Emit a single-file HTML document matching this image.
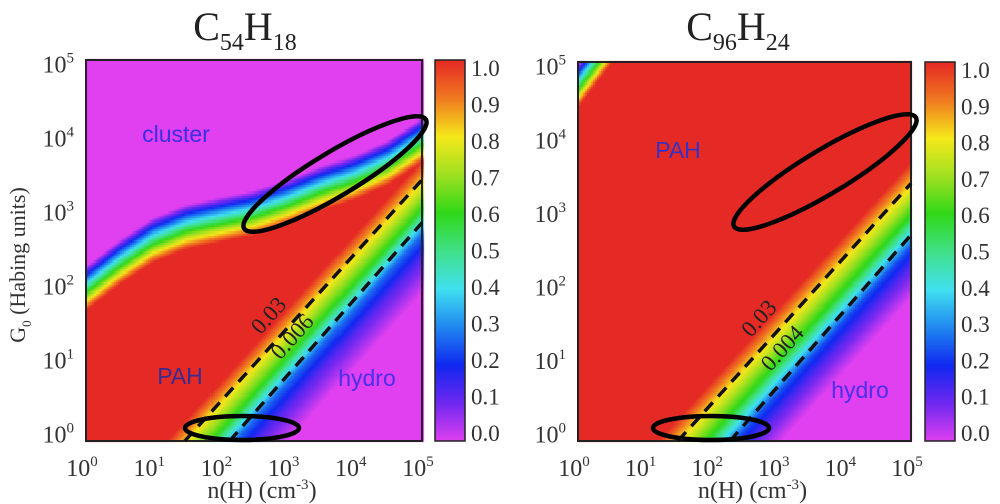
<!DOCTYPE html>
<html><head><meta charset="utf-8">
<style>
html,body{margin:0;padding:0;background:#fff;}
#wrap{position:relative;width:1000px;height:504px;overflow:hidden;}
canvas{position:absolute;left:0;top:0;}
svg{position:absolute;left:0;top:0;}
text{font-family:"Liberation Serif",serif;}
</style></head>
<body>
<div id="wrap">
<canvas id="cv" width="1000" height="504"></canvas>
<svg id="sv" width="1000" height="504"></svg>
</div>
<script>
// ---- data ----
const xTickExp = [0,1,2,3,4,5];
const yTickExp = [0,1,2,3,4,5];
const cbTicks = ["0.0","0.1","0.2","0.3","0.4","0.5","0.6","0.7","0.8","0.9","1.0"];
// cluster transition edge (log G0) sampled at log n = 0..5 step 0.5
const clusterLogN = [0,0.5,1,1.5,2,2.5,3,3.5,4,4.5,5];
const clusterEdgeL = [1.95,2.3,2.6,2.78,2.88,2.97,3.12,3.3,3.45,3.65,3.95];
const clusterEdgeR = [4.7,5.3,6.2,7,7,7,7,7,7,7,7];
// hydro transition: value vs offset d = logG - logn
const hydroDL = [-3.1,-2.65,-2.3,-1.95,-1.57,-1.3];
const hydroVL = [0,0.12,0.27,0.6,0.82,1];
const hydroDR = [-3.15,-2.75,-2.45,-2.05,-1.6,-1.3];
const hydroVR = [0,0.12,0.24,0.58,0.82,1];
// dashed contour offsets (logG = slope*logn + offset)
const contourLabelsL = ["0.03","0.006"];
const contourOffsetL = [-1.57,-2.3];
const contourLabelsR = ["0.03","0.004"];
const contourOffsetR = [-1.6,-2.45];
const contourSlope = [1.0,1.03];
// colormap
const cmapV = [0,0.1,0.2,0.3,0.4,0.5,0.6,0.7,0.8,0.9,1.0];
const cmapC = ["#e040f0","#7028f0","#1028f0","#2088f0","#40e0f0","#40e088","#30d818","#a0e020","#f5e81a","#f07a20","#e52a25"];

const panels = [
 {name:"c54h18",x0:86,x1:422,y0:60,y1:441,cb0:435,cb1:465,title:["C","54","H","18"],tx:245,edge:clusterEdgeL,hd:hydroDL,hv:hydroVL,cl:contourLabelsL,co:contourOffsetL,
  labels:[["cluster",176,142,"#3a30e0"],["PAH",180,384,"#3a2a90"],["hydro",367,386,"#4a30e8"]],
  ell:[[335,174,106,22,-31],[242,428,57,12,0]], yTitle:true},
 {name:"c96h24",x0:578,x1:911,y0:62,y1:441,cb0:925,cb1:955,title:["C","96","H","24"],tx:738,edge:clusterEdgeR,hd:hydroDR,hv:hydroVR,cl:contourLabelsR,co:contourOffsetR,
  labels:[["PAH",678,158,"#3a30c0"],["hydro",860,398,"#4a30e8"]],
  ell:[[825,172,106,22,-31],[711,428,58,12,0]], yTitle:false}
];
const yMin=-0.1,yMax=5.05;
function hex(c){return [parseInt(c.slice(1,3),16),parseInt(c.slice(3,5),16),parseInt(c.slice(5,7),16)];}
function cmap(v){v=Math.max(0,Math.min(1,v));for(let i=0;i<cmapV.length-1;i++){if(v<=cmapV[i+1]){const t=(v-cmapV[i])/(cmapV[i+1]-cmapV[i]);const a=hex(cmapC[i]),b=hex(cmapC[i+1]);return [0,1,2].map(k=>Math.round(a[k]+(b[k]-a[k])*t));}}return hex(cmapC[cmapC.length-1]);}
function interp(xs,ys,x){if(x<=xs[0])return ys[0];for(let i=0;i<xs.length-1;i++){if(x<=xs[i+1]){const t=(x-xs[i])/(xs[i+1]-xs[i]);return ys[i]+(ys[i+1]-ys[i])*t;}}return ys[ys.length-1];}
const cv=document.getElementById('cv').getContext('2d');
const NS="http://www.w3.org/2000/svg";
const sv=document.getElementById('sv');
function el(tag,attrs,parent){const e=document.createElementNS(NS,tag);for(const k in attrs)e.setAttribute(k,attrs[k]);(parent||sv).appendChild(e);return e;}

panels.forEach(p=>{
 const sx=v=>p.x0+(v-0)/(5-0)*(p.x1-p.x0);
 const sy=v=>p.y1-(v-yMin)/(yMax-yMin)*(p.y1-p.y0);
 const g=el('g',{});
 
 
 const step=0.03;
 for(let ln=0;ln<5;ln+=step){
  for(let lg=yMin;lg<yMax;lg+=step){
   const cx=ln+step/2,cy=lg+step/2;
   const e=interp(clusterLogN,p.edge,cx);
   const vc=(e-cy)/0.6+0.55;
   const vh=interp(p.hd,p.hv,cy-cx);
   const v=Math.min(vc,vh,1);
   const c=cmap(v);
   cv.fillStyle=`rgb(${c[0]},${c[1]},${c[2]})`;
   const X=sx(ln),Y=sy(lg+step);
   cv.fillRect(Math.floor(X),Math.floor(Y),Math.ceil(sx(ln+step)-X)+1,Math.ceil(sy(lg)-Y)+1);
  }
 }
 for(let y=p.y0;y<p.y1;y++){const c=cmap(1-(y-p.y0)/(p.y1-p.y0));cv.fillStyle=`rgb(${c[0]},${c[1]},${c[2]})`;cv.fillRect(p.cb0,y,p.cb1-p.cb0,1);}
 const cb=el('rect',{x:p.cb0,y:p.y0,width:p.cb1-p.cb0,height:p.y1-p.y0,fill:'none',stroke:'#222','stroke-width':1.5},g);
 
 
 cbTicks.forEach((t,i)=>{
  const yy=p.y1-8-i*(p.y1-p.y0-16)/10;
  const tx=el('text',{x:p.cb1+6,y:yy+8,'font-size':23,fill:'#333'},g);tx.textContent=t;
  
  
 });
 const fr=el('rect',{x:p.x0,y:p.y0,width:p.x1-p.x0,height:p.y1-p.y0,fill:'none',stroke:'#222','stroke-width':2},g);
 
 
 p.co.forEach((off,i)=>{
  const sl=contourSlope[i];
  const xa=Math.max(0,(yMin-off)/sl), xb=5;
  const ln=el('line',{x1:sx(xa),y1:sy(sl*xa+off),x2:sx(xb),y2:sy(sl*xb+off),stroke:'#111','stroke-width':3.5,'stroke-dasharray':'12,8'},g);
  
  
  const lx=2.8+i*0.35, ly=sl*lx+off+0.3;
  const t=el('text',{x:sx(lx),y:sy(ly),'font-size':23,fill:'#222',transform:`rotate(-48 ${sx(lx)} ${sy(ly)})`,'text-anchor':'middle'},g);
  t.textContent=p.cl[i];
  
  
 });
 xTickExp.forEach(e=>{
  const t=el('text',{x:sx(e)-4,y:p.y1+35,'font-size':24,fill:'#333','text-anchor':'middle'},g);
  t.innerHTML='10<tspan dy="-10" font-size="15">'+e+'</tspan>';
  
  
 });
 yTickExp.forEach(e=>{
  const t=el('text',{x:p.x0-12,y:sy(e)+9,'font-size':24,fill:'#333','text-anchor':'end'},g);
  t.innerHTML='10<tspan dy="-10" font-size="15">'+e+'</tspan>';
  
  
 });
 const xt=el('text',{x:(p.x0+p.x1)/2+8,y:498,'font-size':24,fill:'#333','text-anchor':'middle'},g);
 xt.innerHTML='n(H) (cm<tspan dy="-9" font-size="15">-3</tspan><tspan dy="9">)</tspan>';
 
 
 if(p.yTitle){
  const yt=el('text',{x:0,y:0,'font-size':22,fill:'#333','text-anchor':'middle',transform:'translate(25 265) rotate(-90)'},g);
  yt.innerHTML='G<tspan dy="6" font-size="13">0</tspan><tspan dy="-6"> (Habing units)</tspan>';
  
  
 }
 const ti=el('text',{x:p.tx,y:40,'font-size':40,fill:'#222','text-anchor':'middle'},g);
 ti.innerHTML=p.title[0]+'<tspan dy="10" font-size="24">'+p.title[1]+'</tspan><tspan dy="-10">'+p.title[2]+'</tspan><tspan dy="10" font-size="24">'+p.title[3]+'</tspan>';
 
 
 p.labels.forEach(l=>{
  const t=el('text',{x:l[1],y:l[2],'font-size':23,fill:l[3],'text-anchor':'middle',style:'font-family:"Liberation Sans",sans-serif'},g);
  t.textContent=l[0];
  
  
 });
 p.ell.forEach(e=>{
  const o=el('ellipse',{cx:e[0],cy:e[1],rx:e[2],ry:e[3],fill:'none',stroke:'#000','stroke-width':4.5,transform:`rotate(${e[4]} ${e[0]} ${e[1]})`},g);
  
  
 });
});
</script>
</body></html>
